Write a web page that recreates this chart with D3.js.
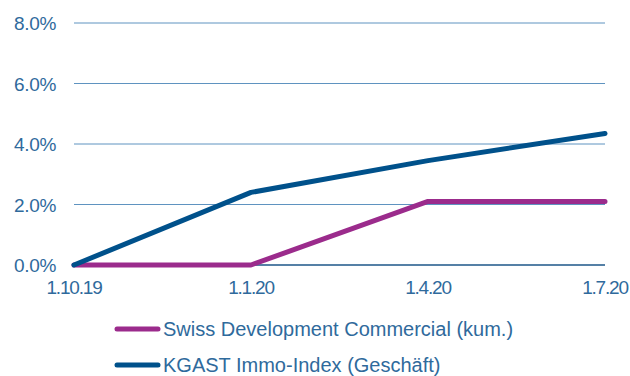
<!DOCTYPE html>
<html><head><meta charset="utf-8">
<script src="https://cdn.jsdelivr.net/npm/d3@7"></script>
<style>body{margin:0;background:#fff}svg{display:block}text{font-family:"Liberation Sans",Arial,sans-serif}</style>
</head><body>
<script>
const categories = ["1.10.19","1.1.20","1.4.20","1.7.20"];
const swissValues = [0, 0, 2.1, 2.1];
const kgastValues = [0, 2.4, 3.45, 4.35];
const yTicks = [0, 2, 4, 6, 8];
const seriesNames = ["Swiss Development Commercial (kum.)", "KGAST Immo-Index (Geschäft)"];
const seriesColors = ["#9b2b8c", "#00518b"];

const W = 630, H = 376;
const svg = d3.select("body").append("svg").attr("width", W).attr("height", H);
const x = d3.scalePoint().domain(categories).range([74, 605]);
const y = d3.scaleLinear().domain([0, 8]).range([265, 23]);
const labelColor = "#2f6a9c";

// gridlines
svg.append("g").selectAll("line").data(yTicks.filter(d => d > 0)).join("line")
  .attr("x1", 74).attr("x2", 605)
  .attr("y1", d => y(d)).attr("y2", d => y(d))
  .attr("stroke", "#5f93c0").attr("stroke-width", 1);
svg.append("line").attr("x1", 74).attr("x2", 605).attr("y1", y(0)).attr("y2", y(0))
  .attr("stroke", "#1d5688").attr("stroke-width", 1.5);

// y labels
svg.append("g").selectAll("text").data(yTicks).join("text")
  .attr("x", 56).attr("y", d => y(d) + 7).attr("text-anchor", "end")
  .attr("font-size", 19).attr("fill", labelColor).attr("letter-spacing", -0.3)
  .text(d => d.toFixed(1) + "%");

// x labels
svg.append("g").selectAll("text").data(categories).join("text")
  .attr("x", d => x(d)).attr("y", 294).attr("text-anchor", "middle")
  .attr("font-size", 19).attr("fill", labelColor).attr("letter-spacing", -1.2)
  .text(d => d);

const line = d3.line().x((d, i) => x(categories[i])).y(d => y(d));
[swissValues, kgastValues].forEach((vals, k) => {
  svg.append("path").datum(vals).attr("d", line)
    .attr("fill", "none").attr("stroke", seriesColors[k]).attr("stroke-width", 5)
    .attr("stroke-linecap", "round").attr("stroke-linejoin", "round");
});

// legend
const leg = svg.append("g");
seriesNames.forEach((name, i) => {
  const ly = 329 + i * 36;
  leg.append("line").attr("x1", 117).attr("x2", 158).attr("y1", ly).attr("y2", ly)
    .attr("stroke", seriesColors[i]).attr("stroke-width", 5).attr("stroke-linecap", "round");
  leg.append("text").attr("x", 163).attr("y", ly + 7)
    .attr("font-size", 20).attr("fill", labelColor).text(name);
});
</script>
</body></html>
